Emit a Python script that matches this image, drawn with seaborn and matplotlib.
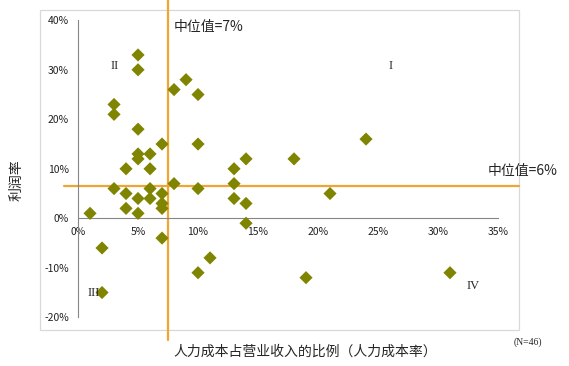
"""Scatter: labour cost share of revenue vs. profit margin, with median quadrants."""
import matplotlib
matplotlib.use("Agg")
import matplotlib.pyplot as plt
import seaborn as sns
import pandas as pd
from matplotlib.patches import Rectangle

# labour cost / revenue (%) and profit margin (%) per company
labour_pct = [1, 2, 2, 3, 3, 3, 4, 4, 4, 5, 5, 5, 5, 5, 5, 5,
              6, 6, 6, 6, 7, 7, 7, 7, 7, 8, 8, 9, 10, 10, 10, 10,
              11, 13, 13, 13, 14, 14, 14, 18, 19, 21, 24, 31]
profit_pct = [1, -6, -15, 23, 21, 6, 10, 5, 2, 33, 30, 18, 13, 12, 4, 1,
              13, 10, 6, 4, 15, 5, 3, 2, -4, 26, 7, 28, 25, 15, 6, -11,
              -8, 10, 7, 4, 12, 3, -1, 12, -12, 5, 16, -11]
median_x = 7.5
median_y = 6.5
median_x_label = "中位值=7%"
median_y_label = "中位值=6%"
x_ticks = [0, 5, 10, 15, 20, 25, 30, 35]
y_ticks = [-20, -10, 0, 10, 20, 30, 40]

MARKER = "#7f8500"
MEDIAN = "#f0a432"
AXIS = "#868686"

sns.set_style("white")
plt.rcParams["font.family"] = ["Noto Sans CJK SC", "DejaVu Sans"]

df = pd.DataFrame({"labour": labour_pct, "profit": profit_pct})

fig = plt.figure(figsize=(5.69, 3.66), dpi=100)
ax = fig.add_axes([40 / 569, 1 - 330 / 366, 479 / 569, 320 / 366])

sns.scatterplot(data=df, x="labour", y="profit", marker="D", s=45,
                color=MARKER, edgecolor="none", ax=ax, zorder=3, legend=False)

# median cross lines (reach a bit past the plot frame, as in the original)
ax.axvline(median_x, ymin=-0.03, ymax=1.04, color=MEDIAN, lw=1.6, clip_on=False, zorder=2)
ax.axhline(median_y, xmin=0.05, xmax=1.0, color=MEDIAN, lw=1.6, clip_on=False, zorder=2)

ax.set_xlim(-3.17, 36.75)
ax.set_ylim(-22.57, 42.08)

# Excel-like axes crossing at zero, plus a light frame around the plot area
for side in ["top", "right"]:
    ax.spines[side].set_visible(False)
ax.spines["left"].set_position(("data", 0))
ax.spines["left"].set_bounds(-20, 40)
ax.spines["bottom"].set_position(("data", 0))
ax.spines["bottom"].set_bounds(0, 35)
for side in ["left", "bottom"]:
    ax.spines[side].set_color(AXIS)
    ax.spines[side].set_linewidth(0.8)
ax.add_patch(Rectangle((0, 0), 1, 1, transform=ax.transAxes, fill=False,
                       edgecolor="#d9d9d9", lw=0.9, clip_on=False, zorder=0))

ax.set_xticks(x_ticks)
ax.set_xticklabels([f"{t}%" for t in x_ticks])
ax.set_yticks(y_ticks)
ax.set_yticklabels([f"{t}%" for t in y_ticks])
ax.tick_params(axis="both", direction="out", length=3, width=0.8, color=AXIS,
               labelsize=7.5, labelcolor="#222222", pad=3.5)
ax.set_xlabel("")
ax.set_ylabel("")

# median annotations
ax.text(8.0, 38.7, median_x_label, fontsize=10, va="center", ha="left")
ax.text(34.17, 9.5, median_y_label, fontsize=10, va="center", ha="left",
        clip_on=False)

# quadrant markers
serif = {"family": "Liberation Serif", "fontsize": 9}
ax.text(3.08, 30.7, "II", ha="center", va="center", **serif)
ax.text(26.08, 30.7, "I", ha="center", va="center", **serif)
ax.text(1.3, -15.1, "III", ha="center", va="center", **serif)
ax.text(32.92, -13.7, "IV", ha="center", va="center", **serif)

fig.text(305 / 569, 1 - 352 / 366, "人力成本占营业收入的比例（人力成本率）",
         fontsize=10, ha="center", va="center")
fig.text(17 / 569, 1 - 180 / 366, "利润率", fontsize=10, rotation=90,
         ha="center", va="center")
fig.text(528 / 569, 1 - 342 / 366, "(N=46)", family="Liberation Serif",
         fontsize=7, ha="center", va="center")

fig.savefig("out.png", dpi=100)
